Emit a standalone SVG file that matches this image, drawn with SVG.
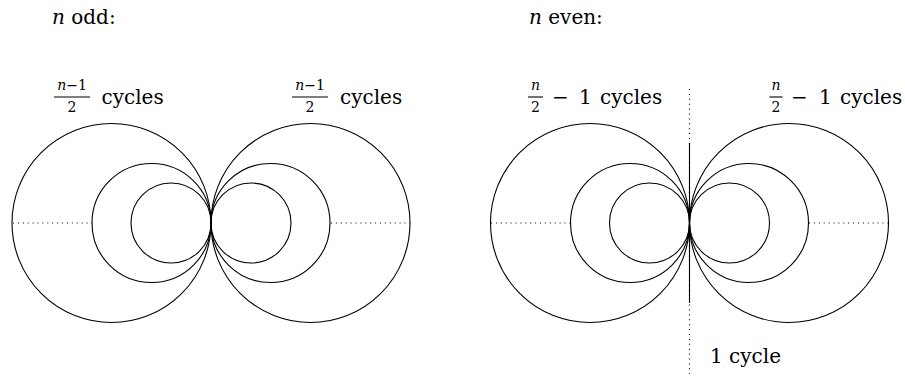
<svg xmlns="http://www.w3.org/2000/svg" width="905" height="377" viewBox="0 0 905 377">
<style>
.c{fill:none;stroke:#000;stroke-width:1.1}
.d{fill:none;stroke:#000;stroke-width:1.2;stroke-dasharray:1 3.9}
.s{fill:none;stroke:#000;stroke-width:1.1}
text{font-family:'DejaVu Serif','Liberation Serif',serif;fill:#000}
.t{font-size:20px}
.f{font-size:14px}
.i{font-style:italic}
</style>
<rect width="905" height="377" fill="#fff"/>
<g id="odd">
  <g id="odd-left">
    <circle class="c" cx="111.5" cy="223" r="99.5"/>
    <circle class="c" cx="151.5" cy="223" r="59.5"/>
    <circle class="c" cx="171" cy="223" r="40"/>
  </g>
  <g id="odd-right">
    <circle class="c" cx="310.5" cy="223" r="99.5"/>
    <circle class="c" cx="270.5" cy="223" r="59.5"/>
    <circle class="c" cx="251" cy="223" r="40"/>
  </g>
  <g id="odd-labels">
    <text class="t" x="52" y="24"><tspan class="i">n</tspan> odd:</text>
    <text class="f" x="72" y="90" text-anchor="middle"><tspan class="i">n</tspan>−1</text>
    <line class="s" x1="54" y1="97" x2="90" y2="97"/>
    <text class="f" x="72" y="112" text-anchor="middle">2</text>
    <text class="t" x="101.5" y="104">cycles</text>
    <text class="f" x="310" y="90" text-anchor="middle"><tspan class="i">n</tspan>−1</text>
    <line class="s" x1="292" y1="97" x2="328" y2="97"/>
    <text class="f" x="310" y="112" text-anchor="middle">2</text>
    <text class="t" x="340" y="104">cycles</text>
  </g>
</g>
<g id="even">
  <g id="even-left">
    <circle class="c" cx="590" cy="223" r="99.5"/>
    <circle class="c" cx="630" cy="223" r="59.5"/>
    <circle class="c" cx="649.5" cy="223" r="40"/>
  </g>
  <g id="even-right">
    <circle class="c" cx="789" cy="223" r="99.5"/>
    <circle class="c" cx="749" cy="223" r="59.5"/>
    <circle class="c" cx="729.5" cy="223" r="40"/>
  </g>
  <g id="even-labels">
    <text class="t" x="529" y="24"><tspan class="i">n</tspan> even:</text>
    <text class="f i" x="535.5" y="90" text-anchor="middle">n</text>
    <line class="s" x1="528" y1="97" x2="543" y2="97"/>
    <text class="f" x="535.5" y="112" text-anchor="middle">2</text>
    <text class="t" y="104"><tspan x="552">−</tspan><tspan x="579">1</tspan><tspan x="600">cycles</tspan></text>
    <text class="f i" x="776" y="90" text-anchor="middle">n</text>
    <line class="s" x1="769.5" y1="97" x2="782.5" y2="97"/>
    <text class="f" x="776" y="112" text-anchor="middle">2</text>
    <text class="t" y="104"><tspan x="791">−</tspan><tspan x="819">1</tspan><tspan x="840">cycles</tspan></text>
    <text class="t" x="710" y="363">1 cycle</text>
  </g>
</g>
<g id="connectors">
  <line class="d" x1="13" y1="223" x2="92" y2="223"/>
  <line class="d" x1="331" y1="223" x2="410" y2="223"/>
  <line class="d" x1="491" y1="223" x2="570" y2="223"/>
  <line class="d" x1="809" y1="223" x2="888" y2="223"/>
  <line class="d" x1="689.5" y1="89" x2="689.5" y2="374"/>
  <line class="s" x1="689.5" y1="143" x2="689.5" y2="303"/>
</g>
</svg>
